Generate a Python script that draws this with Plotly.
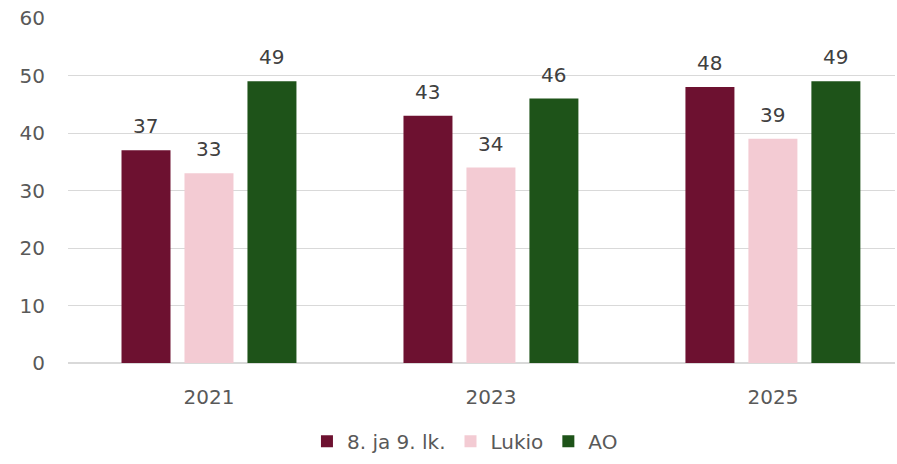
import plotly.graph_objects as go

categories = ["2021", "2023", "2025"]
series_names = ["8. ja 9. lk.", "Lukio", "AO"]
values_89 = [37, 43, 48]
values_lukio = [33, 34, 39]
values_ao = [49, 46, 49]
y_ticks = [0, 10, 20, 30, 40, 50, 60]

colors = ["#6D1130", "#F3CBD3", "#1E5319"]
all_values = [values_89, values_lukio, values_ao]
font_family = "Verdana, DejaVu Sans, sans-serif"
fs = 20

fig = go.Figure()
for name, vals, col in zip(series_names, all_values, colors):
    fig.add_trace(go.Bar(x=categories, y=vals, name=name, marker_color=col,
                         marker_line_width=0))

# data labels above bars
offsets = [-63, 0, 63]
for vals, dx in zip(all_values, offsets):
    for i, v in enumerate(vals):
        fig.add_annotation(x=i, y=v, text=str(v), showarrow=False,
                           xanchor="center", yanchor="bottom", xshift=dx, yshift=10,
                           font=dict(family=font_family, size=fs, color="#404040"))

fig.update_layout(
    width=897, height=464,
    margin=dict(l=68, r=2, t=18, b=101),
    paper_bgcolor="white", plot_bgcolor="white",
    barmode="group", bargap=0.33, bargroupgap=0.222,
    font=dict(family=font_family, size=fs, color="#595959"),
    showlegend=True,
    legend=dict(orientation="h", x=0.48, xanchor="center", y=-0.17, yanchor="top",
                font=dict(size=fs, color="#595959"), tracegroupgap=0),
    xaxis=dict(type="category", range=[-0.5, 2.433], showgrid=False, showline=False,
               ticks="", automargin=False,
               tickfont=dict(size=fs, color="#595959"), ticklabelstandoff=20),
    yaxis=dict(range=[0, 60], tickvals=y_ticks, showgrid=True, gridcolor="#D9D9D9",
               gridwidth=1, zeroline=True, zerolinecolor="#D9D9D9", zerolinewidth=2,
               showline=False, ticks="", automargin=False,
               tickfont=dict(size=fs, color="#595959"), ticklabelstandoff=22),
)

fig.write_html("out.html", config={"displayModeBar": False},
               post_script="document.body.style.margin='0';document.body.style.overflow='hidden';")
